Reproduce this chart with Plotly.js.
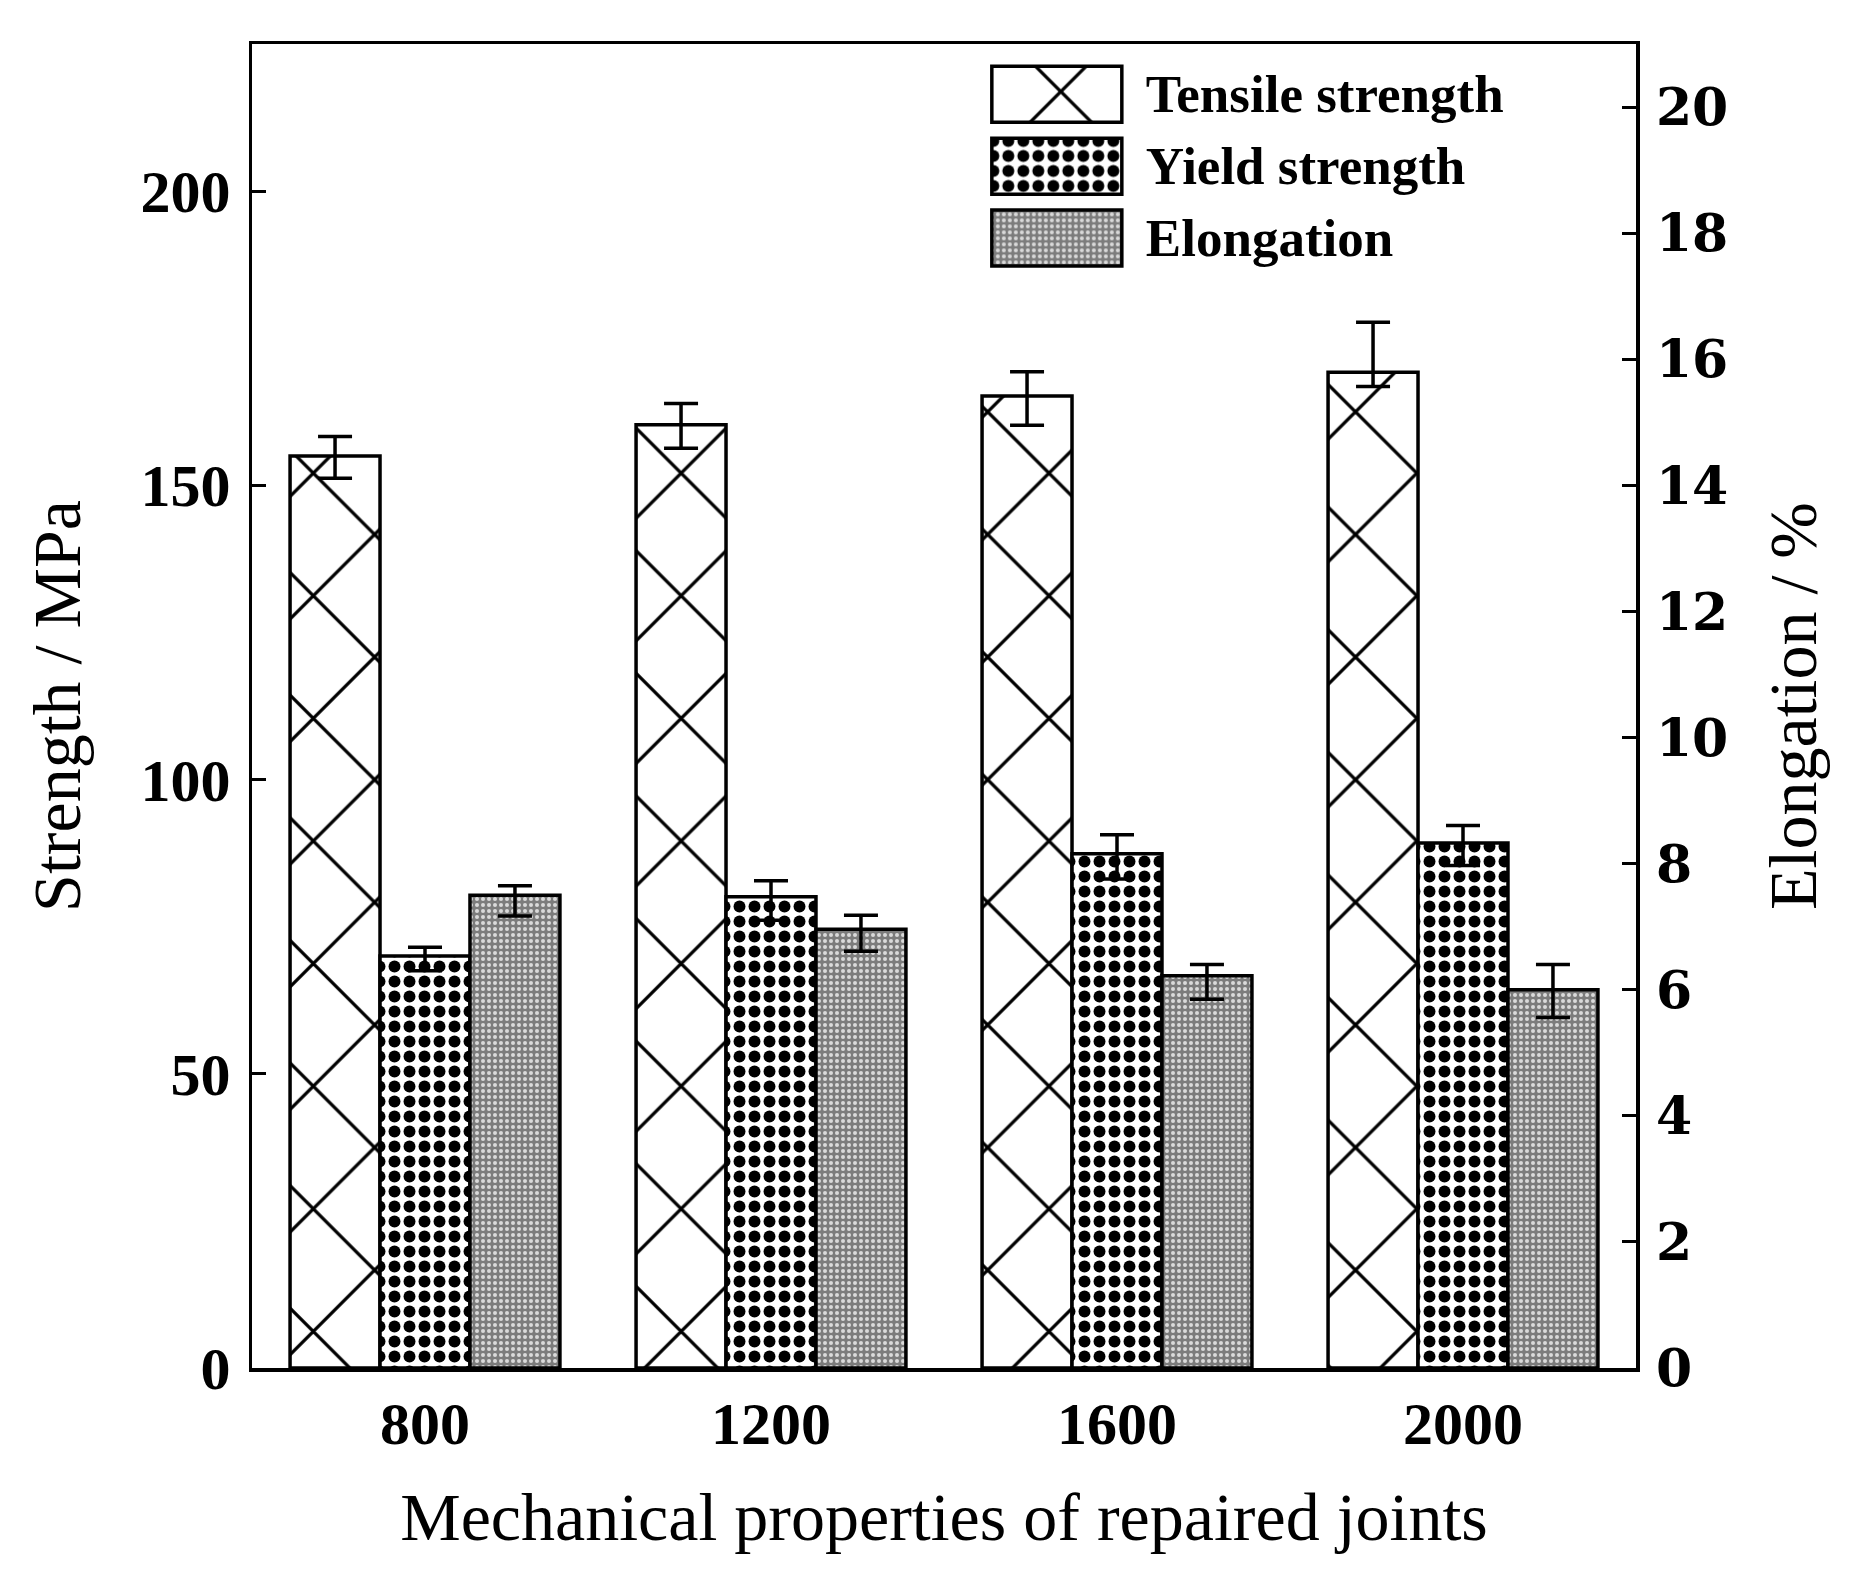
<!DOCTYPE html>
<html>
<head>
<meta charset="utf-8">
<script src="https://cdn.plot.ly/plotly-3.0.1.min.js"></script>
<style>
  body { margin: 0; background: #fff; }
  #chart { width: 1868px; height: 1595px; }
</style>
</head>
<body>
<div id="chart"></div>
<script>
// heat input groups on the x axis
let categories = ["800", "1200", "1600", "2000"];

// strength in MPa (left axis)
let tensile = [155.0, 160.3, 165.2, 169.2];
let tensileErrPlus = [3.3, 3.6, 4.1, 8.5];
let tensileErrMinus = [3.8, 4.0, 5.0, 2.4];

let yieldStr = [70.0, 80.1, 87.4, 89.2];
let yieldErrPlus = [1.5, 2.7, 3.2, 3.0];
let yieldErrMinus = [2.5, 4.0, 4.3, 3.8];

// elongation in % (right axis)
let elong = [7.5, 6.96, 6.22, 6.0];
let elongErrPlus = [0.15, 0.22, 0.18, 0.4];
let elongErrMinus = [0.33, 0.35, 0.37, 0.44];

let leftTicks = [0, 50, 100, 150, 200];
let rightTicks = [0, 2, 4, 6, 8, 10, 12, 14, 16, 18, 20];

const serif = "Liberation Serif, Times New Roman, serif";

function errs(plus, minus) {
    return {
        type: "data", symmetric: false, array: plus, arrayminus: minus,
        color: "#000", thickness: 3.5, width: 17
    };
}

const data = [
    {
        type: "bar", name: "Tensile strength", x: categories, y: tensile,
        yaxis: "y", offsetgroup: "1",
        marker: {
            color: "#fff", line: {color: "#000", width: 3.5},
            pattern: {shape: "x", size: 86.7, solidity: 0.075, fgcolor: "#000", bgcolor: "#fff"}
        },
        error_y: errs(tensileErrPlus, tensileErrMinus)
    },
    {
        type: "bar", name: "Yield strength", x: categories, y: yieldStr,
        yaxis: "y", offsetgroup: "2",
        marker: {
            color: "#fff", line: {color: "#000", width: 3.5},
            pattern: {shape: ".", size: 15, solidity: 0.5, fgcolor: "#000", bgcolor: "#fff"}
        },
        error_y: errs(yieldErrPlus, yieldErrMinus)
    },
    {
        type: "bar", name: "Elongation", x: categories, y: elong,
        yaxis: "y2", offsetgroup: "3",
        marker: {
            color: "#7c7c7c", line: {color: "#000", width: 3.5},
            pattern: {shape: ".", size: 6, solidity: 0.35, fgcolor: "#dadada", bgcolor: "#7c7c7c"}
        },
        error_y: errs(elongErrPlus, elongErrMinus)
    }
];

const layout = {
    width: 1868,
    height: 1595,
    margin: {l: 252, r: 232, t: 44, b: 227},
    paper_bgcolor: "#fff",
    plot_bgcolor: "#fff",
    barmode: "group",
    bargap: 0.22,
    bargroupgap: 0,
    showlegend: true,
    legend: {
        x: 0.523, y: 0.995, xanchor: "left", yanchor: "top",
        bgcolor: "rgba(0,0,0,0)", itemwidth: 160,
        font: {family: serif, size: 53, color: "#000", weight: "bold"},
        tracegroupgap: 0
    },
    xaxis: {
        type: "category",
        showline: true, mirror: true, linecolor: "#000", linewidth: 3.5,
        ticks: "", showgrid: false, zeroline: false,
        tickfont: {family: serif, size: 60, color: "#000", weight: "bold"},
        ticklabelstandoff: 0,
        title: {
            text: "Mechanical properties of repaired joints",
            font: {family: serif, size: 68, color: "#000"},
            standoff: 38
        }
    },
    yaxis: {
        range: [0, 225], tickvals: leftTicks,
        showline: true, linecolor: "#000", linewidth: 3.5,
        ticks: "inside", ticklen: 14, tickwidth: 3, tickcolor: "#000",
        showgrid: false, zeroline: false,
        tickfont: {family: serif, size: 60, color: "#000", weight: "bold"},
        ticklabelstandoff: 6,
        title: {
            text: "Strength / MPa",
            font: {family: serif, size: 68, color: "#000"},
            standoff: 38
        }
    },
    yaxis2: {
        range: [0, 21], tickvals: rightTicks,
        overlaying: "y", side: "right",
        showline: true, linecolor: "#000", linewidth: 3.5,
        ticks: "inside", ticklen: 14, tickwidth: 3, tickcolor: "#000",
        showgrid: false, zeroline: false,
        tickfont: {family: "DejaVu Serif, serif", size: 52, color: "#000", weight: "bold"},
        ticklabelstandoff: 6,
        title: {
            text: "Elongation / %",
            font: {family: serif, size: 68, color: "#000"},
            standoff: 42
        }
    }
};

Plotly.newPlot("chart", data, layout, {displayModeBar: false, staticPlot: true}).then(function (gd) {
    // fill of the drawn bars, by trace index
    const fills = {};
    gd.querySelectorAll(".barlayer .trace").forEach(function (tr) {
        const d = tr.__data__;
        const bar = tr.querySelector(".point path");
        if (d && d[0] && bar) fills[d[0].trace.index] = bar.style.fill;
    });
    // wide legend boxes as in the original figure
    gd.querySelectorAll(".legend .traces").forEach(function (item) {
        const t = item.querySelector("text.legendtext").getBoundingClientRect();
        const p = item.querySelector(".legendpoints path");
        if (!p) return;
        const m = p.getScreenCTM();
        const x1 = t.left - 24 - m.e, x0 = x1 - 130;
        const yc = (t.top + t.bottom) / 2 - m.f;
        p.setAttribute("d", "M" + x0 + "," + (yc - 28) + "H" + x1 + "V" + (yc + 28) + "H" + x0 + "Z");
        const idx = item.__data__[0].trace.index;
        if (fills[idx]) p.style.fill = fills[idx];
        p.style.strokeWidth = "3.5px";
        p.style.stroke = "#000";
    });
});
</script>
</body>
</html>
